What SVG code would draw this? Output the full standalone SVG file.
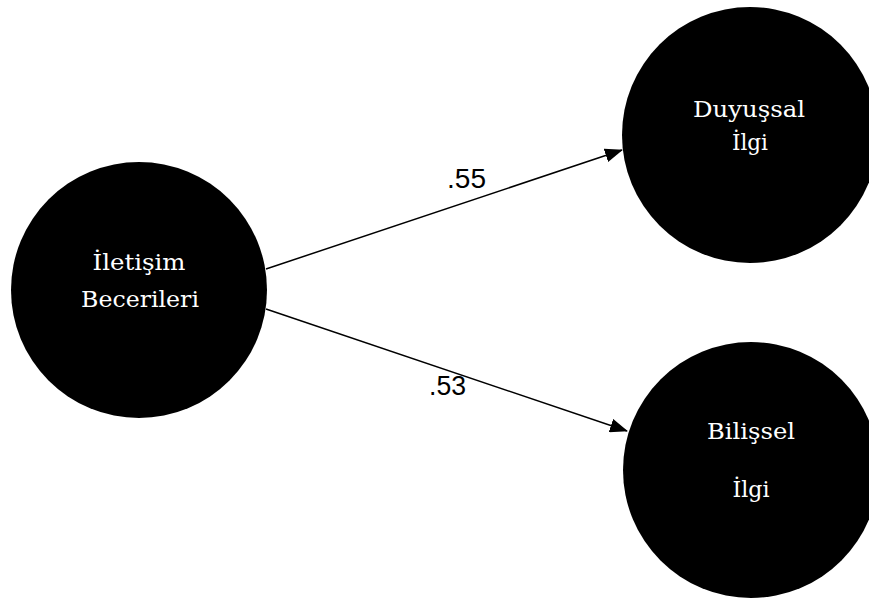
<svg xmlns="http://www.w3.org/2000/svg" width="869" height="601" viewBox="0 0 869 601">
<defs>
<marker id="arr" markerUnits="userSpaceOnUse" markerWidth="18" markerHeight="14" viewBox="0 0 18 14" refX="17" refY="7" orient="auto">
<path d="M0,0 L18,7 L0,14 Z" fill="#000"/>
</marker>
<style>
.node{fill:#000;stroke:none}
.lbl{fill:#fff;font-family:"DejaVu Serif","Liberation Serif",serif;font-size:23px;text-anchor:middle}
.w{fill:#000;font-family:"Liberation Sans",Arial,sans-serif;font-size:27px}
.edge{stroke:#000;stroke-width:1.5;fill:none}
</style>
</defs>
<rect width="869" height="601" fill="#fff"/>
<g id="connectors">
<line class="edge" x1="266" y1="269" x2="622" y2="150" marker-end="url(#arr)"/>
<line class="edge" x1="266" y1="309" x2="627" y2="431" marker-end="url(#arr)"/>
<text class="w" x="447" y="188" textLength="39" lengthAdjust="spacingAndGlyphs">.55</text>
<text class="w" x="429" y="395" textLength="37" lengthAdjust="spacingAndGlyphs">.53</text>
</g>
<g id="iletisim">
<circle class="node" cx="139" cy="290" r="128"/>
<text class="lbl" x="139" y="270" textLength="93" lengthAdjust="spacingAndGlyphs">İletişim</text>
<text class="lbl" x="140" y="307" textLength="118" lengthAdjust="spacingAndGlyphs">Becerileri</text>
</g>
<g id="duyussal">
<circle class="node" cx="750" cy="135" r="128"/>
<text class="lbl" x="749" y="117" textLength="112" lengthAdjust="spacingAndGlyphs">Duyuşsal</text>
<text class="lbl" x="750" y="150" textLength="36" lengthAdjust="spacingAndGlyphs">İlgi</text>
</g>
<g id="bilissel">
<circle class="node" cx="751" cy="470" r="128"/>
<text class="lbl" x="751" y="439" textLength="88" lengthAdjust="spacingAndGlyphs">Bilişsel</text>
<text class="lbl" x="751" y="497" textLength="37" lengthAdjust="spacingAndGlyphs">İlgi</text>
</g>
</svg>
